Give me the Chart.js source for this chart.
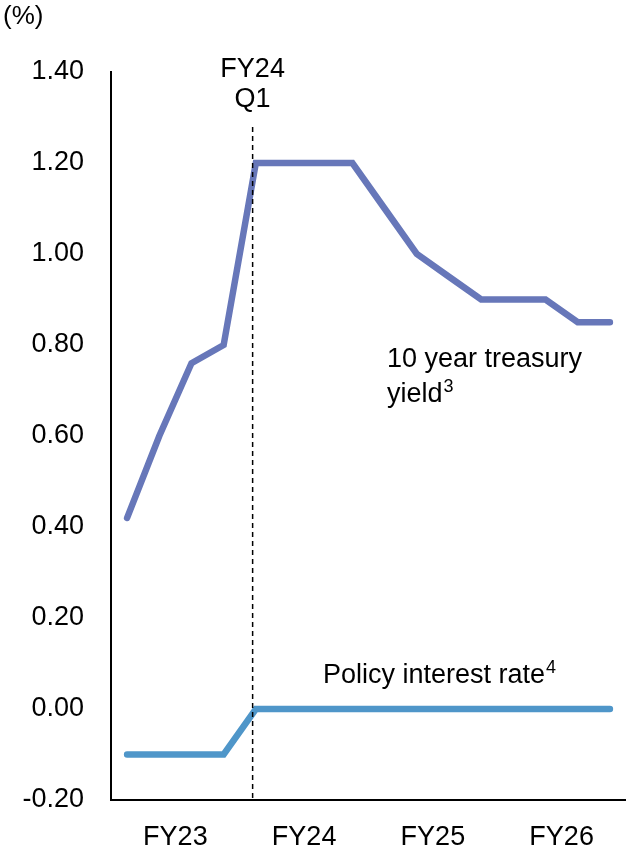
<!DOCTYPE html>
<html>
<head>
<meta charset="utf-8">
<script src="https://cdn.jsdelivr.net/npm/chart.js@4.4.1/dist/chart.umd.min.js"></script>
<style>
  html, body { margin: 0; padding: 0; background: #fff; }
  #wrap { width: 626px; height: 851px; position: relative; }
</style>
</head>
<body>
<div id="wrap"><canvas id="c"></canvas></div>
<script>
const quarters = [
  'FY23 Q1','FY23 Q2','FY23 Q3','FY23 Q4',
  'FY24 Q1','FY24 Q2','FY24 Q3','FY24 Q4',
  'FY25 Q1','FY25 Q2','FY25 Q3','FY25 Q4',
  'FY26 Q1','FY26 Q2','FY26 Q3','FY26 Q4'
];
const years = ['FY23', 'FY24', 'FY25', 'FY26'];
const treasuryYield = [0.42, 0.60, 0.76, 0.80, 1.20, 1.20, 1.20, 1.20, 1.10, 1.00, 0.95, 0.90, 0.90, 0.90, 0.85, 0.85];
const policyRate   = [-0.10, -0.10, -0.10, -0.10, 0, 0, 0, 0, 0, 0, 0, 0, 0, 0, 0, 0];
const yMin = -0.2, yMax = 1.4, yStep = 0.2;
const markerIndex = 3.9; // FY24 Q1 marker

const FONT = '"Liberation Sans", Arial, sans-serif';
const FS = 27;

const annotations = {
  id: 'annotations',
  afterDraw(chart) {
    const ctx = chart.ctx;
    const x = chart.scales.x;
    const area = chart.chartArea;
    ctx.save();
    // dashed marker line
    const mx = x.getPixelForValue(markerIndex);
    ctx.strokeStyle = '#000';
    ctx.lineWidth = 1.5;
    ctx.setLineDash([5, 4]);
    ctx.beginPath();
    ctx.moveTo(mx, 127);
    ctx.lineTo(mx, area.bottom);
    ctx.stroke();
    ctx.setLineDash([]);

    ctx.fillStyle = '#000';
    ctx.textBaseline = 'alphabetic';
    ctx.font = FS + 'px ' + FONT;
    ctx.textAlign = 'center';
    ctx.fillText('FY24', mx, 77);
    ctx.fillText('Q1', mx, 107);
    ctx.textAlign = 'left';
    ctx.font = '26px ' + FONT;
    ctx.fillText('(%)', 3, 24);

    function supText(main, sup, left, base) {
      ctx.font = FS + 'px ' + FONT;
      ctx.textAlign = 'left';
      ctx.fillText(main, left, base);
      const w = ctx.measureText(main).width;
      ctx.font = '18px ' + FONT;
      ctx.fillText(sup, left + w + 1, base - 10);
    }
    ctx.font = FS + 'px ' + FONT;
    ctx.fillText('10 year treasury', 387, 367);
    supText('yield', '3', 387, 402);
    supText('Policy interest rate', '4', 323, 683);
    ctx.restore();
  }
};

new Chart(document.getElementById('c'), {
  type: 'line',
  data: {
    labels: quarters,
    datasets: [
      {
        label: '10 year treasury yield',
        data: treasuryYield,
        borderColor: '#6777B9',
        borderWidth: 6.5,
        pointRadius: 0,
        borderCapStyle: 'round',
        borderJoinStyle: 'miter',
        tension: 0,
        xAxisID: 'x'
      },
      {
        label: 'Policy interest rate',
        data: policyRate,
        borderColor: '#4F96C9',
        borderWidth: 6.5,
        pointRadius: 0,
        borderCapStyle: 'round',
        borderJoinStyle: 'miter',
        tension: 0,
        xAxisID: 'x'
      }
    ]
  },
  options: {
    responsive: true,
    maintainAspectRatio: false,
    animation: false,
    layout: { padding: { top: 72, right: 0, left: 0, bottom: 0 } },
    plugins: { legend: { display: false }, tooltip: { enabled: false } },
    scales: {
      x: {
        type: 'category',
        display: false,
        offset: true
      },
      x2: {
        type: 'category',
        labels: years,
        position: 'bottom',
        offset: true,
        grid: { display: false, drawTicks: false },
        border: { display: true, color: '#000', width: 2 },
        ticks: { color: '#000', font: { family: FONT, size: FS }, padding: 21, maxRotation: 0, autoSkip: false },
        afterFit(scale) { scale.height = 51; }
      },
      y: {
        min: yMin,
        max: yMax,
        grid: { display: false, drawTicks: false },
        border: { display: true, color: '#000', width: 2 },
        ticks: {
          stepSize: yStep,
          color: '#000',
          padding: 27,
          font: { family: FONT, size: FS },
          callback: v => (Math.round(v * 100) / 100).toFixed(2)
        },
        afterFit(scale) { scale.width = 111; }
      }
    }
  },
  plugins: [annotations]
});
</script>
</body>
</html>
